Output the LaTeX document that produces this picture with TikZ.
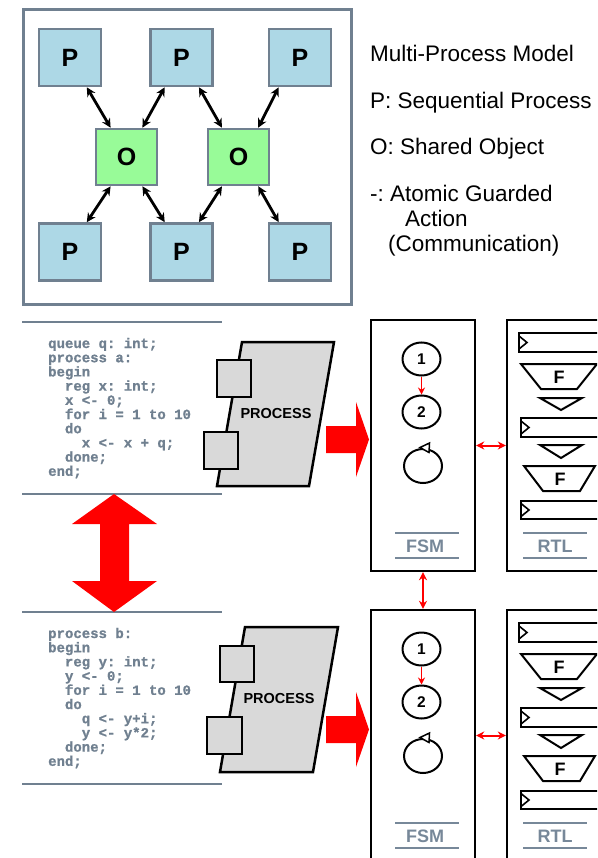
\documentclass[tikz,border=0pt]{standalone}
\usepackage{fontspec}
\setmainfont{Liberation Sans}
\newfontfamily\codefont{Liberation Mono}
\usetikzlibrary{arrows.meta,shapes.geometric,calc}
\definecolor{slate}{RGB}{112,128,144}
\definecolor{lslate}{RGB}{119,136,153}
\definecolor{pblue}{RGB}{173,216,230}
\definecolor{ogreen}{RGB}{152,251,152}
\definecolor{pgray}{RGB}{217,217,217}
\tikzset{
  pbox/.style={draw=slate, line width=2.6pt, fill=pblue, minimum width=62pt, minimum height=57pt, inner sep=0pt, font=\fontsize{25}{25}\selectfont\bfseries},
  obox/.style={pbox, fill=ogreen, minimum width=61pt, minimum height=56pt},
  biarrow/.style={line width=2.8pt, {Stealth[length=9pt,width=9pt]}-{Stealth[length=9pt,width=9pt]}},
  rt/.style={anchor=base west, inner sep=0pt, font=\fontsize{22.5}{25}\selectfont\frenchspacing},
  code/.style={anchor=base west, inner sep=0pt, text=slate, font=\fontsize{14}{14}\selectfont\codefont\bfseries\addfontfeature{FakeBold=1}\frenchspacing},
  rule/.style={draw=slate, line width=2.6pt},
  procshape/.style={draw=black, fill=pgray, line width=2.5pt, line join=miter},
  sqbox/.style={draw=black, fill=pgray, line width=2.5pt, inner sep=0pt},
  proclabel/.style={inner sep=0pt, font=\fontsize{14.5}{15}\selectfont\bfseries},
  bwbox/.style={draw=black, line width=2.4pt, inner sep=0pt, minimum width=104pt, minimum height=251pt},
  st/.style={ellipse, draw=black, line width=2pt, minimum width=38pt, minimum height=33pt, inner sep=0pt, font=\fontsize{15.5}{15.5}\selectfont\bfseries},
  redbi/.style={draw=red, line width=2pt, {Stealth[length=8pt,width=8pt]}-{Stealth[length=8pt,width=8pt]}},
  redone/.style={draw=red, line width=1.8pt, -{Stealth[length=7pt,width=7pt]}},
  rtlpart/.style={draw=black, line width=2pt, fill=white, line join=miter},
  flabel/.style={inner sep=0pt, font=\fontsize{18}{18}\selectfont\bfseries},
  tag/.style={inner sep=0pt, text=lslate, font=\fontsize{18}{18}\selectfont\bfseries},
  tagrule/.style={draw=lslate, line width=2.4pt}
}
\begin{document}
\begin{tikzpicture}[x=1pt,y=-1pt]
\clip (0,0) rectangle (597,858);
\fill[white] (0,0) rectangle (597,858);

% ---------- multi-process model ----------
\node[draw=slate, line width=3pt, minimum width=328pt, minimum height=294pt, inner sep=0pt] (frame) at (187,157) {};
\node[pbox] (p1) at (70,57.5) {P};
\node[pbox] (p2) at (181.5,57.5) {P};
\node[pbox] (p3) at (300,57.5) {P};
\node[pbox] (p4) at (70,252) {P};
\node[pbox] (p5) at (181.5,252) {P};
\node[pbox] (p6) at (300,252) {P};
\node[obox] (o1) at (126.5,157) {O};
\node[obox] (o2) at (238.5,157) {O};

\draw[biarrow] ($(p1.south west)!.76!(p1.south east)$) -- ($(o1.north west)!.25!(o1.north east)$);
\draw[biarrow] ($(p2.south west)!.24!(p2.south east)$) -- ($(o1.north west)!.75!(o1.north east)$);
\draw[biarrow] ($(p2.south west)!.77!(p2.south east)$) -- ($(o2.north west)!.24!(o2.north east)$);
\draw[biarrow] ($(p3.south west)!.17!(p3.south east)$) -- ($(o2.north west)!.81!(o2.north east)$);
\draw[biarrow] ($(o1.south west)!.25!(o1.south east)$) -- ($(p4.north west)!.76!(p4.north east)$);
\draw[biarrow] ($(o1.south west)!.75!(o1.south east)$) -- ($(p5.north west)!.24!(p5.north east)$);
\draw[biarrow] ($(o2.south west)!.24!(o2.south east)$) -- ($(p5.north west)!.77!(p5.north east)$);
\draw[biarrow] ($(o2.south west)!.81!(o2.south east)$) -- ($(p6.north west)!.17!(p6.north east)$);

\node[rt] (t1) at (370,62) {Multi-Process Model};
\node[rt] (t2) at (370,109) {P: Sequential Process};
\node[rt] (t3) at (370,155) {O: Shared Object};
\node[rt] (t4) at (370,202) {-: Atomic Guarded};
\node[rt] (t5) at (405,227) {Action};
\node[rt] (t6) at (388,252) {(Communication)};

% ---------- code blocks ----------
\draw[rule] (22,322) -- (222,322);
\draw[rule] (22,494) -- (222,494);
\draw[rule] (22,612) -- (222,612);
\draw[rule] (22,784) -- (222,784);

\foreach \t [count=\i] in {{queue q: int;},{process a:},{begin},{\phantom{xx}reg x: int;},{\phantom{xx}x <- 0;},{\phantom{xx}for i = 1 to 10},{\phantom{xx}do},{\phantom{xxxx}x <- x + q;},{\phantom{xx}done;},{end;}}
  \node[code] (ca\i) at (48,{348+14.2*(\i-1)}) {\t};

\foreach \t [count=\i] in {{process b:},{begin},{\phantom{xx}reg y: int;},{\phantom{xx}y <- 0;},{\phantom{xx}for i = 1 to 10},{\phantom{xx}do},{\phantom{xxxx}q <- y+i;},{\phantom{xxxx}y <- y*2;},{\phantom{xx}done;},{end;}}
  \node[code] (cb\i) at (48,{638+14.2*(\i-1)}) {\t};

% big red double arrow
\fill[red] (114,494) -- (157,524) -- (129,524) -- (129,581) -- (157,581) -- (114,612) -- (72,581) -- (100,581) -- (100,524) -- (72,524) -- cycle;

% ---------- process shapes ----------
\filldraw[procshape] (242,342) -- (334,342) -- (309,486) -- (217,486) -- cycle;
\node[sqbox, minimum width=34pt, minimum height=37pt] (s1) at (234,378.5) {};
\node[sqbox, minimum width=34pt, minimum height=37pt] (s2) at (221,450.5) {};
\node[proclabel] (pl1) at (276,414) {PROCESS};

\filldraw[procshape] (245,627) -- (338,627) -- (313,772) -- (220,772) -- cycle;
\node[sqbox, minimum width=34pt, minimum height=36pt] (s3) at (237,664) {};
\node[sqbox, minimum width=35pt, minimum height=37pt] (s4) at (224.5,735.5) {};
\node[proclabel] (pl2) at (279,699) {PROCESS};

% red block arrows
\fill[red] (326,426) -- (356,426) -- (356,402) -- (369,439.5) -- (356,477) -- (356,453) -- (326,453) -- cycle;
\fill[red] (326,716) -- (356,716) -- (356,692) -- (369,729.5) -- (356,767) -- (356,743) -- (326,743) -- cycle;

% ---------- FSM / RTL columns ----------
\foreach \k/\dy in {1/0,2/290}{
\begin{scope}[shift={(0,\dy)}]
  \node[bwbox] (fsm\k) at (423,445.5) {};
  \node[bwbox, minimum width=113pt] (rtl\k) at (563.5,445.5) {};
  \draw[redbi] (fsm\k.east) -- (rtl\k.west);

  \node[st] (a\k) at (421.5,359) {1};
  \node[st] (b\k) at (421.5,412) {2};
  \draw[redone] (a\k) -- (b\k);
  \node[st, minimum height=34pt] (l\k) at (423,466) {};
  \draw[line width=1.5pt, fill=white, line join=miter] (420,447.5) -- (429.5,443) -- (429,452.5) -- cycle;

  \draw[rtlpart] (519,333) rectangle (615,352);
  \draw[line width=1.6pt] (519,336) -- (527,342.5) -- (519,349);
  \draw[rtlpart] (521,364) -- (597,364) -- (577,389) -- (541,389) -- cycle;
  \node[flabel] (f\k a) at (559,377) {F};
  \draw[rtlpart] (540,398) -- (582,398) -- (561,410) -- cycle;
  \draw[rtlpart] (521,418) rectangle (615,437);
  \draw[line width=1.6pt] (521,421) -- (529,427.5) -- (521,434);
  \draw[rtlpart] (540,445) -- (582,445) -- (561,458) -- cycle;
  \draw[rtlpart] (524,466) -- (595,466) -- (580,491) -- (543,491) -- cycle;
  \node[flabel] (f\k b) at (560,479) {F};
  \draw[rtlpart] (521,501) rectangle (615,519);
  \draw[line width=1.6pt] (521,503.5) -- (529,510) -- (521,516.5);

  \draw[tagrule] (395,533) -- (459,533);
  \draw[tagrule] (395,558) -- (459,558);
  \node[tag] (fsml\k) at (425,546) {FSM};
  \draw[tagrule] (523,533) -- (587,533);
  \draw[tagrule] (523,558) -- (587,558);
  \node[tag] (rtll\k) at (555,546) {RTL};
\end{scope}
}
\draw[redbi] (fsm1.south) -- (fsm2.north);

\end{tikzpicture}
\end{document}
